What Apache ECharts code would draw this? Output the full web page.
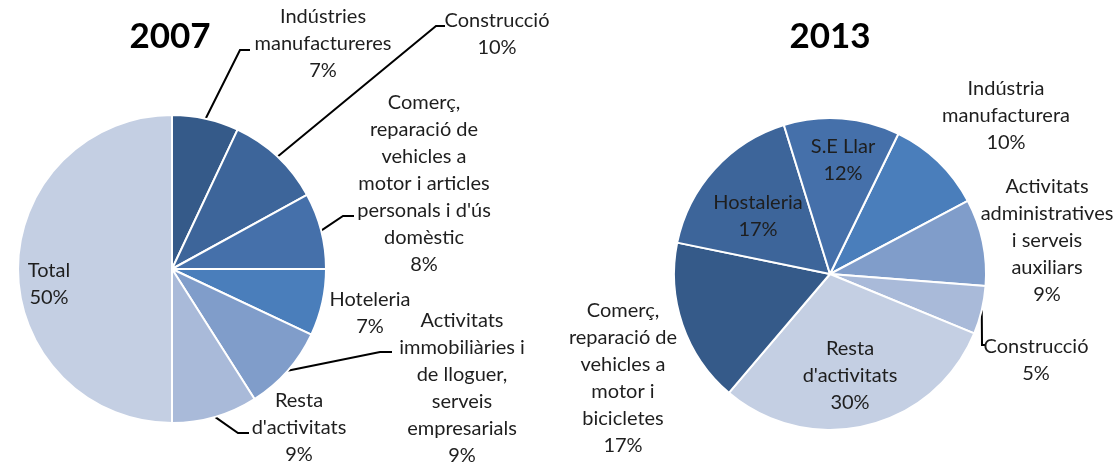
<!DOCTYPE html>
<html><head><meta charset="utf-8">
<script src="https://cdn.jsdelivr.net/npm/echarts@6/dist/echarts.min.js"></script>
<style>html,body{margin:0;padding:0;background:#fff}#c{width:1119px;height:463px}</style>
</head><body><div id="c"></div>
<script>
// ---- data ----
const titles = ["2007", "2013"];
const names2007 = ["Indústries\nmanufactureres", "Construcció", "Comerç,\nreparació de\nvehicles a\nmotor i articles\npersonals i d'ús\ndomèstic", "Hoteleria", "Activitats\nimmobiliàries i\nde lloguer,\nserveis\nempresarials", "Resta\nd'activitats", "Total"];
const values2007 = [7, 10, 8, 7, 9, 9, 50];
const names2013 = ["Indústria\nmanufacturera", "Activitats\nadministratives\ni serveis\nauxiliars", "Construcció", "Resta\nd'activitats", "Comerç,\nreparació de\nvehicles a\nmotor i\nbicicletes", "Hostaleria", "S.E Llar"];
const values2013 = [10, 9, 5, 30, 17, 17, 12];

// ---- styles / layout ----
const colors2007 = ["#355A89", "#3D659A", "#4570AA", "#4A7EBB", "#809DCA", "#A9BAD9", "#C4CFE3"];
const colors2013 = ["#4A7EBB", "#809DCA", "#A9BAD9", "#C4CFE3", "#355A89", "#3D659A", "#4570AA"];
const labelPos2007 = [[323, 44], [497, 34], [424, 184], [370, 313], [462, 388], [299, 428], [49, 284]];
const labelPos2013 = [[1006, 116], [1047, 241], [1036, 360], [850, 376], [623, 378], [758, 216], [843, 160]];
const leader2007 = [[[240, 50], [250, 50]], [[436, 26], [445, 26]], [[343, 216], [354, 216]], null, [[380, 352], [392, 352]], [[238, 433], [249, 433]], null];
const leader2013 = [null, null, [[982, 345], [985, 345]], null, null, null, null];
const inside2007 = [false, false, false, false, false, false, true];
const inside2013 = [false, false, false, true, false, true, true];

const FONT = 'Lato, "Open Sans", sans-serif';

function makeData(names, values, colors, inside, leaders) {
  return names.map((n, i) => ({
    name: n,
    value: values[i],
    itemStyle: { color: colors[i] },
    label: { position: inside[i] ? 'inside' : 'outside' },
    labelLine: { show: !!leaders[i] }
  }));
}
function makeLayout(pos, leaders) {
  return function (params) {
    const i = params.dataIndex;
    const res = { x: pos[i][0], y: pos[i][1], align: 'center', verticalAlign: 'middle' };
    if (leaders[i] && params.labelLinePoints) {
      res.labelLinePoints = [params.labelLinePoints[0], leaders[i][0], leaders[i][1]];
    }
    return res;
  };
}
function makeSeries(names, values, colors, inside, leaders, pos, center, radius, startAngle) {
  return {
    type: 'pie',
    center: center,
    radius: radius,
    startAngle: startAngle,
    clockwise: true,
    avoidLabelOverlap: false,
    animation: false,
    silent: true,
    itemStyle: { borderColor: '#ffffff', borderWidth: 2 },
    label: {
      show: true,
      formatter: p => p.name + '\n' + p.value + '%',
      fontFamily: FONT,
      fontSize: 20,
      lineHeight: 27,
      color: '#1e1e1e',
      align: 'center'
    },
    labelLine: { lineStyle: { color: '#000000', width: 2 }, smooth: false },
    labelLayout: makeLayout(pos, leaders),
    data: makeData(names, values, colors, inside, leaders)
  };
}

const chart = echarts.init(document.getElementById('c'), null, { renderer: 'canvas' });
chart.setOption({
  backgroundColor: '#ffffff',
  animation: false,
  graphic: [
    { type: 'text', x: 170, y: 37, style: { text: titles[0], textAlign: 'center', textVerticalAlign: 'middle', font: 'bold 35px Lato, sans-serif', fill: '#000' } },
    { type: 'text', x: 830, y: 37, style: { text: titles[1], textAlign: 'center', textVerticalAlign: 'middle', font: 'bold 35px Lato, sans-serif', fill: '#000' } }
  ],
  series: [
    makeSeries(names2007, values2007, colors2007, inside2007, leader2007, labelPos2007, [172, 269], 154, 90),
    makeSeries(names2013, values2013, colors2013, inside2013, leader2013, labelPos2013, [830, 274], 156, 64)
  ]
});
</script>
</body></html>
